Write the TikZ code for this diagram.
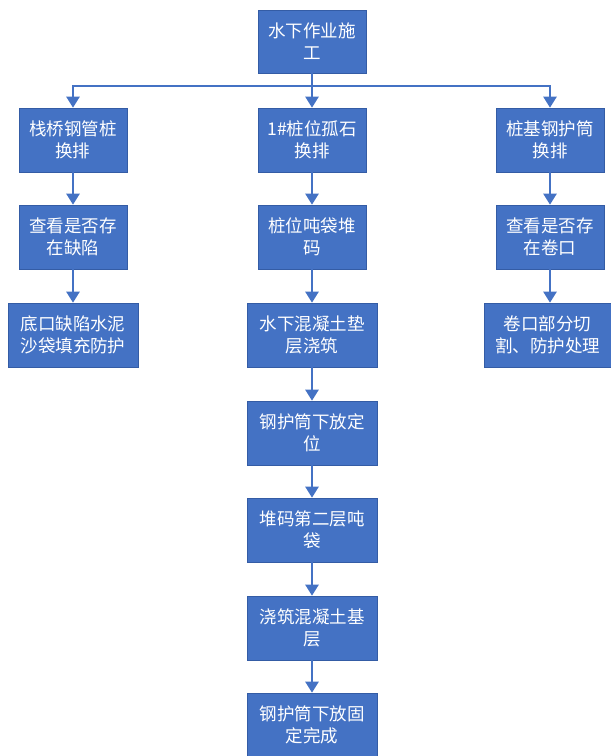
\documentclass[tikz,border=0pt]{standalone}
\usepackage{fontspec}
\newfontfamily\cjk{Noto Sans CJK SC}
\usetikzlibrary{arrows.meta}
\definecolor{boxblue}{RGB}{68,114,196}
\definecolor{boxedge}{RGB}{52,92,165}
\begin{document}
\begin{tikzpicture}[x=1pt,y=-1pt,
  procbox/.style={rectangle, fill=boxblue, draw=boxedge, line width=0.6pt, text=white,
    font=\cjk\fontsize{17.5}{22}\selectfont, align=center,
    minimum width=108pt, minimum height=64pt, inner sep=0pt},
  widebox/.style={procbox, minimum width=130pt},
  link/.style={draw=boxblue, line width=2.4pt},
  arr/.style={link, -{Triangle[width=13pt,length=11pt]}}]
\useasboundingbox (0,0) rectangle (611,756);
\fill[white] (0,0) rectangle (611,756);

\node[procbox, minimum height=63pt] (top) at (312,41.5) {水下作业施\\工};

% left column
\node[procbox] (l1) at (73,140) {栈桥钢管桩\\换排};
\node[procbox] (l2) at (73,237) {查看是否存\\在缺陷};
\node[widebox] (l3) at (73,335) {底口缺陷水泥\\沙袋填充防护};

% middle column
\node[procbox] (m1) at (312,140) {1\#桩位孤石\\换排};
\node[procbox] (m2) at (312,237) {桩位吨袋堆\\码};
\node[widebox] (m3) at (312,335) {水下混凝土垫\\层浇筑};
\node[widebox] (m4) at (312,433) {钢护筒下放定\\位};
\node[widebox] (m5) at (312,530) {堆码第二层吨\\袋};
\node[widebox] (m6) at (312,628) {浇筑混凝土基\\层};
\node[widebox, minimum height=63pt] (m7) at (312,724.5) {钢护筒下放固\\定完成};

% right column
\node[procbox] (r1) at (550,140) {桩基钢护筒\\换排};
\node[procbox] (r2) at (550,237) {查看是否存\\在卷口};
\node[procbox, minimum width=127pt] (r3) at (547.5,335) {卷口部分切\\割、防护处理};

% branching
\coordinate (bl) at (73,86);
\coordinate (bm) at (312,86);
\coordinate (br) at (550,86);
\draw[link] (top.south) -- (bm);
\draw[link, line cap=rect] (bl) -- (br);
\draw[arr] (bl) -- (l1.north);
\draw[arr] (bm) -- (m1.north);
\draw[arr] (br) -- (r1.north);

\draw[arr] (l1) -- (l2);
\draw[arr] (l2) -- (l3);
\draw[arr] (m1) -- (m2);
\draw[arr] (m2) -- (m3);
\draw[arr] (m3) -- (m4);
\draw[arr] (m4) -- (m5);
\draw[arr] (m5) -- (m6);
\draw[arr] (m6) -- (m7);
\draw[arr] (r1) -- (r2);
\draw[arr] (r2) -- (r3.north -| r2.south);
\end{tikzpicture}
\end{document}
